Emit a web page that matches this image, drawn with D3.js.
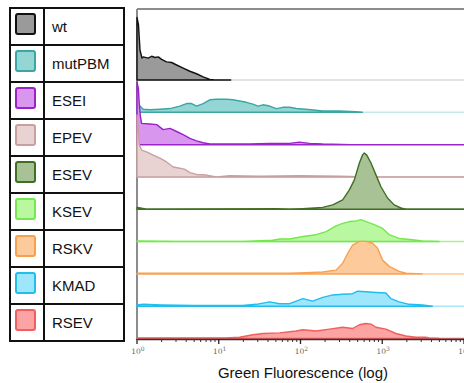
<!DOCTYPE html>
<html><head><meta charset="utf-8">
<script src="https://cdn.jsdelivr.net/npm/d3@7"></script>
<style>body{margin:0;background:#fff}svg{display:block}</style>
</head><body>
<svg id="chart" width="464" height="383"></svg>
<script>
// ---- data ----
const categories = ["wt","mutPBM","ESEI","EPEV","ESEV","KSEV","RSKV","KMAD","RSEV"];
const fillColors   = ["#9a9a9a","#93d6d3","#d896ee","#e9d2d2","#a8c195","#b9f7a0","#fdca9c","#9ee6fc","#fca3a3"];
const strokeColors = ["#111111","#3aa7a5","#9b22c9","#c9a0a0","#3f6f22","#74e84c","#f9a04e","#20bdee","#f25d5d"];
const baseColors   = ["#d9d9d9","#c2e9e8","#c07ee0","#e6cccc","#5a8540","#a8f090","#fcc898","#a8e6f8","#e07070"];
// [green fluorescence, event count]
const wt     = [[1,100],[1.043,88],[1.088,48],[1.15,35],[1.19,37],[1.37,35],[1.51,38],[1.66,36],[1.82,37],[2.0,33],[2.3,29],[2.65,28],[3.05,24],[3.67,19],[4.43,14],[5.35,10],[6.44,5],[7.77,1],[8.94,0],[14,0]];
const mutPBM = [[1,13],[1.088,10],[1.19,5],[1.44,4],[1.91,5],[2.53,6],[3.34,10],[4.04,14],[4.65,14],[5.35,10],[6.44,14],[7.77,20],[9.37,21],[12.4,21],[14.9,20],[18,18],[21.8,16],[26.2,13],[30.2,10],[34.7,12],[41.9,10],[50.6,6],[60.8,8],[73.4,8],[88.7,6],[117,5],[187,2],[299,2],[478,1],[570,0]];
const ESEI   = [[1,100],[1.04,90],[1.06,70],[1.1,45],[1.14,34],[1.44,33],[1.74,32],[2.09,24],[2.53,26],[3.05,21],[3.67,16],[4.43,10],[5.35,6],[6.44,3],[7.77,1],[23.9,1],[41.9,2],[73.4,2],[97,4],[129,2],[187,1],[415,0],[10000,0]];
const EPEV   = [[1,99],[1.03,80],[1.07,51],[1.14,43],[1.31,40],[1.58,35],[1.91,30],[2.3,24],[2.77,16],[3.34,14],[3.85,12],[4.43,7],[5.35,4],[7.08,3],[9.37,0],[13.6,2],[31.6,1],[97,2],[299,1],[694,0],[10000,0]];
const ESEV   = [[1,3],[1.1,2],[1.3,0],[50.6,1],[73.4,0],[106,1],[187,3],[248,7],[328,15],[396,31],[456,47],[525,74],[575,87],[603,90],[644,87],[728,74],[837,55],[964,36],[1161,18],[1400,7],[1690,2],[1945,0],[10000,0]];
const KSEV   = [[1,1],[3,0],[20,0],[45.6,2],[55.5,4],[73.4,4],[107,8],[155,11],[206,16],[272,25],[328,29],[396,32],[478,33],[550,35],[633,32],[798,27],[1009,21],[1217,11],[1611,5],[2344,3],[3100,1],[4955,0]];
const RSKV   = [[1,1],[20,1],[73.4,1],[117,2],[187,3],[272,6],[328,17],[378,33],[434,46],[525,52],[633,52],[762,49],[877,41],[1009,22],[1217,12],[1611,4],[1945,1],[3076,0]];
const KMAD   = [[1,2],[1.19,3],[2,2],[5,1],[19.6,1],[28.8,3],[41.9,7],[55.5,4],[73.4,4],[88.7,8],[107,12],[141,8],[187,14],[248,18],[328,19],[434,20],[500,24],[633,23],[837,22],[1109,21],[1277,12],[1611,7],[2133,3],[3100,2],[4105,0]];
const RSEV   = [[1,1],[12,1],[18,2],[26.2,6],[34.7,8],[55.5,9],[88.7,12],[107,14],[155,12],[226,15],[328,18],[434,16],[525,22],[633,24],[728,23],[837,18],[1109,15],[1469,8],[1945,4],[2576,2],[3411,2],[3743,1],[4955,0]];
const seriesValues = [wt, mutPBM, ESEI, EPEV, ESEV, KSEV, RSKV, KMAD, RSEV];
const tickValues = [1, 10, 100, 1000, 10000];
const tickExponents = ["0","1","2","3","4"];
const axisTitle = "Green Fluorescence (log)";

// ---- drawing ----
const svg = d3.select("#chart");
const x = d3.scaleLog().domain([1, 10000]).range([137, 464]);
const row = d3.scalePoint().domain(categories).range([80, 338.5]);
const h = d3.scaleLinear().domain([0, 100]).range([0, 62.5]);

// frame
svg.append("line").attr("x1",137).attr("x2",464).attr("y1",9).attr("y2",9)
  .attr("stroke","#8c8c8c").attr("stroke-width",2);
svg.append("line").attr("x1",137).attr("x2",137).attr("y1",9).attr("y2",340)
  .attr("stroke","#8c8c8c").attr("stroke-width",2);

// series
categories.forEach((cat, i) => {
  const base = row(cat);
  svg.append("line").attr("x1", x(1)).attr("x2", x(10000))
    .attr("y1", base).attr("y2", base)
    .attr("stroke", baseColors[i]).attr("stroke-width", 1.5);
  const area = d3.area()
    .x(d => x(d[0]))
    .y0(base)
    .y1(d => base - h(d[1]));
  svg.append("path").datum(seriesValues[i])
    .attr("d", area)
    .attr("fill", fillColors[i])
    .attr("stroke", strokeColors[i])
    .attr("stroke-width", 1.4)
    .attr("stroke-linejoin","round");
});

// x axis
const axis = d3.axisBottom(x).tickValues([]).tickSize(0).tickSizeOuter(0);
const gx = svg.append("g").attr("transform","translate(0,339)").call(axis);
gx.select(".domain").attr("stroke","#333").attr("stroke-width",1.5);
const minor = [];
for (let d = 1; d < 10000; d *= 10) for (let k = 2; k <= 9; k++) minor.push(d * k);
gx.selectAll(".minor").data(minor).enter().append("line")
  .attr("x1", d => x(d)).attr("x2", d => x(d)).attr("y1", 0).attr("y2", 3)
  .attr("stroke","#333").attr("stroke-width",1);
gx.selectAll(".major").data(tickValues).enter().append("line")
  .attr("x1", d => x(d)).attr("x2", d => x(d)).attr("y1", 0).attr("y2", 5)
  .attr("stroke","#222").attr("stroke-width",1.3);
const lbl = gx.selectAll(".lbl").data(tickValues).enter().append("text")
  .attr("x", d => x(d) + 1).attr("y", 15)
  .attr("font-family","DejaVu Serif, serif").attr("font-size",7.5).attr("fill","#666");
lbl.append("tspan").text("10");
lbl.append("tspan").attr("dy",-3.5).attr("font-size",6).text((d,i) => tickExponents[i]);

svg.append("text").attr("x",303).attr("y",378).attr("text-anchor","middle")
  .attr("font-family","Liberation Sans, Arial, sans-serif").attr("font-size",15)
  .attr("fill","#111").text(axisTitle);

// legend table
const leg = svg.append("g");
const rowH = 37, legTop = 8, lx0 = 10, lx1 = 44, lx2 = 124;
categories.forEach((cat, i) => {
  const y0 = legTop + i * rowH;
  leg.append("rect").attr("x",16).attr("y",y0+6).attr("width",19).attr("height",20).attr("rx",2)
    .attr("fill", fillColors[i]).attr("stroke", strokeColors[i]).attr("stroke-width",2);
  leg.append("text").attr("x",52).attr("y",y0+rowH/2+5)
    .attr("font-family","Liberation Sans, Arial, sans-serif").attr("font-size",15)
    .attr("fill","#111").text(cat);
});
for (let i = 0; i <= categories.length; i++) {
  leg.append("line").attr("x1",lx0).attr("x2",lx2).attr("y1",legTop+i*rowH).attr("y2",legTop+i*rowH)
    .attr("stroke","#111").attr("stroke-width",2);
}
[lx0, lx1, lx2].forEach(xx => leg.append("line").attr("x1",xx).attr("x2",xx)
  .attr("y1",legTop-1).attr("y2",legTop+categories.length*rowH+1).attr("stroke","#111").attr("stroke-width",2));
</script>
</body></html>
